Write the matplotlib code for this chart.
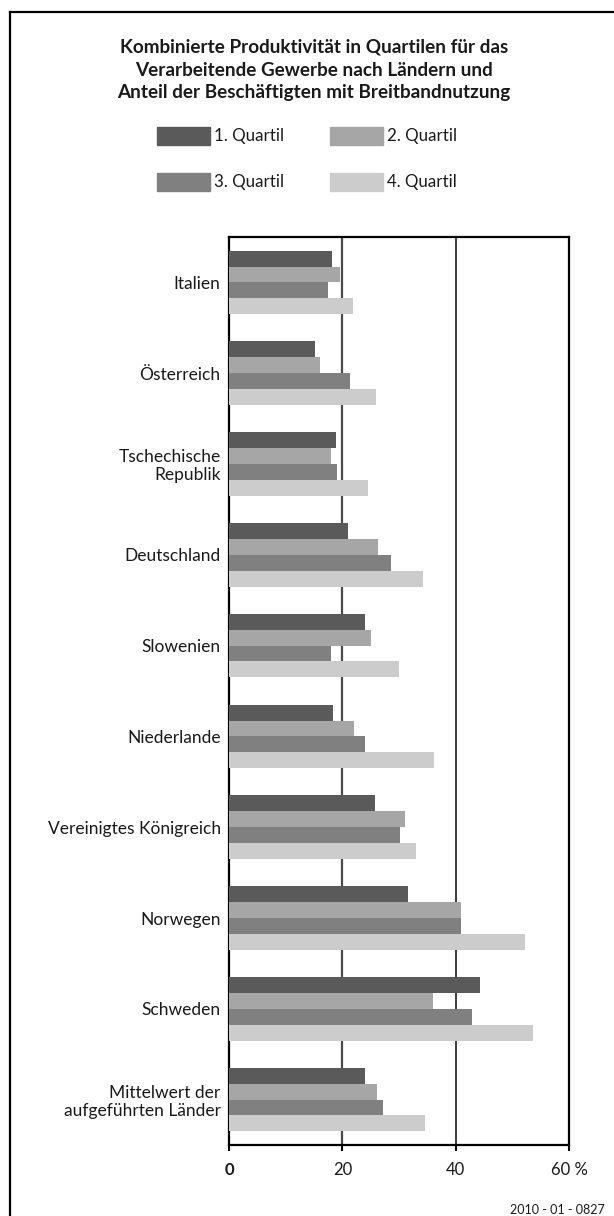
import numpy as np
import matplotlib.pyplot as plt
from matplotlib.patches import Rectangle
from matplotlib.lines import Line2D

plt.rcParams['font.family'] = ['Lato', 'DejaVu Sans']

# Länder (von oben nach unten)
laender = ['Italien', 'Österreich', 'Tschechische\nRepublik', 'Deutschland',
           'Slowenien', 'Niederlande', 'Vereinigtes Königreich', 'Norwegen',
           'Schweden', 'Mittelwert der\naufgeführten Länder']

# Anteil der Beschäftigten mit Breitbandnutzung in %
q1 = [18.2, 15.2, 18.9, 21.0, 24.0, 18.4, 25.8, 31.6, 44.3, 24.0]
q2 = [19.6, 16.1, 18.0, 26.3, 25.1, 22.1, 31.1, 40.9, 36.0, 26.1]
q3 = [17.5, 21.4, 19.1, 28.6, 18.0, 24.0, 30.2, 40.9, 42.9, 27.2]
q4 = [21.9, 25.9, 24.5, 34.2, 30.0, 36.2, 33.0, 52.2, 53.6, 34.6]

quartile = ['1. Quartil', '2. Quartil', '3. Quartil', '4. Quartil']
farben = ['#5a5a5a', '#a6a6a6', '#808080', '#cccccc']

x_ticks = [0, 20, 40, 60]
x_labels = ['0', '20', '40', '60 %']

W, H = 614, 1216
fig = plt.figure(figsize=(W / 100, H / 100), dpi=100)

ax = fig.add_axes([229 / W, 1 - 1145 / H, 340 / W, 908 / H])

y = np.arange(len(laender))
h = 0.175
for k, werte in enumerate([q1, q2, q3, q4]):
    ax.barh(y + (k - 1.5) * h, werte, height=h, color=farben[k], zorder=3)

ax.set_xlim(0, 60)
ax.set_ylim(len(laender) - 0.5, -0.5)

# senkrechte Hilfslinien
ax.axvline(20, color='#4a4a4a', lw=1.6, zorder=1)
ax.axvline(40, color='#1a1a1a', lw=1.2, zorder=1)

for s in ax.spines.values():
    s.set_linewidth(1.6)
    s.set_color('black')

ax.set_yticks(y)
ax.set_yticklabels(laender, fontsize=12.5, color='#1a1a1a', linespacing=1.15)
ax.tick_params(axis='y', length=0, pad=6)
ax.set_xticks(x_ticks)
ax.set_xticklabels(x_labels, fontsize=12, color='#1a1a1a')
ax.tick_params(axis='x', direction='out', length=4, width=1.5, pad=8)
ax.get_xticklabels()[0].set_fontweight('bold')
for lab in ax.get_yticklabels():
    lab.set_multialignment('right')

# Titel
fig.text(0.511, 1 - 70 / H,
         'Kombinierte Produktivität in Quartilen für das\n'
         'Verarbeitende Gewerbe nach Ländern und\n'
         'Anteil der Beschäftigten mit Breitbandnutzung',
         ha='center', va='center', fontsize=13.6, fontweight='bold',
         linespacing=1.42, color='#1a1a1a')

# Legende
pos = [(157, 136), (330, 136), (157, 182), (330, 182)]
for (px, py), name, c in zip(pos, quartile, farben):
    fig.patches.append(Rectangle((px / W, 1 - (py + 9) / H), 53 / W, 18 / H,
                                 transform=fig.transFigure, color=c))
    fig.text((px + 57) / W, 1 - py / H, name, ha='left', va='center',
             fontsize=12.2, color='#1a1a1a')

# Rahmen
fig.add_artist(Line2D([10 / W, 1], [1 - 12 / H, 1 - 12 / H],
                      transform=fig.transFigure, color='black', lw=1.6))
fig.add_artist(Line2D([10 / W, 10 / W], [0, 1 - 12 / H],
                      transform=fig.transFigure, color='black', lw=1.6))

fig.text(605 / W, 1 - 1210 / H, '2010 - 01 - 0827', ha='right', va='center',
         fontsize=9, color='#1a1a1a')

fig.savefig('out.png', dpi=100)
